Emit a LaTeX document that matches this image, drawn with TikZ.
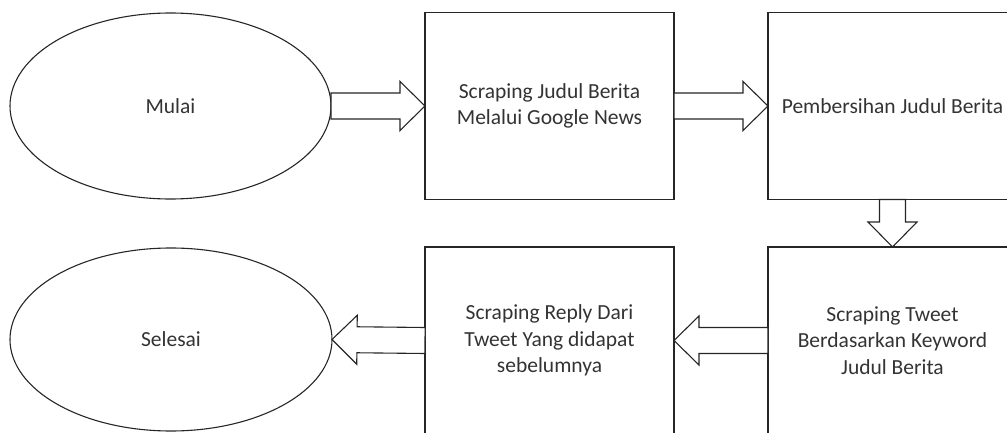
\documentclass[tikz,border=0pt]{standalone}
\usepackage{fontspec}
\setmainfont{Carlito}
\usetikzlibrary{shapes.geometric,calc}

\tikzset{
  flowline/.style={draw=black!85, line width=1.1pt},
  terminal/.style={flowline, ellipse, inner sep=0pt, outer sep=0pt,
    text=black!80, font=\fontsize{21.5}{26.5}\selectfont},
  process/.style={flowline, rectangle, inner sep=0pt, outer sep=0pt,
    minimum width=249pt, minimum height=187pt, align=center,
    text=black!80, font=\fontsize{21.5}{26.5}\selectfont},
  blockarrow/.style={flowline, fill=white, line join=miter},
}

% hollow block arrow from #1 (tail) to #2 (tip)
\newcommand\blockarrow[2]{%
  \path ($(#2)!25pt!(#1)$) coordinate (ba-h);
  \draw[blockarrow]
    ($(#1)!13pt!90:(#2)$) -- ($(ba-h)!13pt!90:(#2)$)
    -- ($(ba-h)!24.5pt!90:(#2)$) -- (#2)
    -- ($(ba-h)!24.5pt!-90:(#2)$) -- ($(ba-h)!13pt!-90:(#2)$)
    -- ($(#1)!13pt!-90:(#2)$) -- cycle;}

\begin{document}
\begin{tikzpicture}[x=1pt, y=-1pt]
  \useasboundingbox (0,0) rectangle (1007,433);
  \clip (0,0) rectangle (1007,433);

  \node[terminal, minimum width=321pt, minimum height=186pt] (mulai) at (170.5,106) {Mulai};
  \node[process] (judul) at (549.5,106) {Scraping Judul Berita\\Melalui Google News};
  \node[process] (bersih) at (892.5,106) {Pembersihan Judul Berita};
  \node[process] (tweet) at (892.5,340.5) {Scraping Tweet\\Berdasarkan Keyword\\Judul Berita};
  \node[process] (reply) at (549.5,340.5) {Scraping Reply Dari\\Tweet Yang didapat\\sebelumnya};
  \node[terminal, minimum width=322pt, minimum height=183pt] (selesai) at (171,339.5) {Selesai};

  \blockarrow{mulai.east}{judul.west}
  \blockarrow{judul.east}{bersih.west}
  \blockarrow{bersih.south}{tweet.north}
  \blockarrow{tweet.west}{reply.east}
  \blockarrow{reply.west}{selesai.east}
\end{tikzpicture}
\end{document}
